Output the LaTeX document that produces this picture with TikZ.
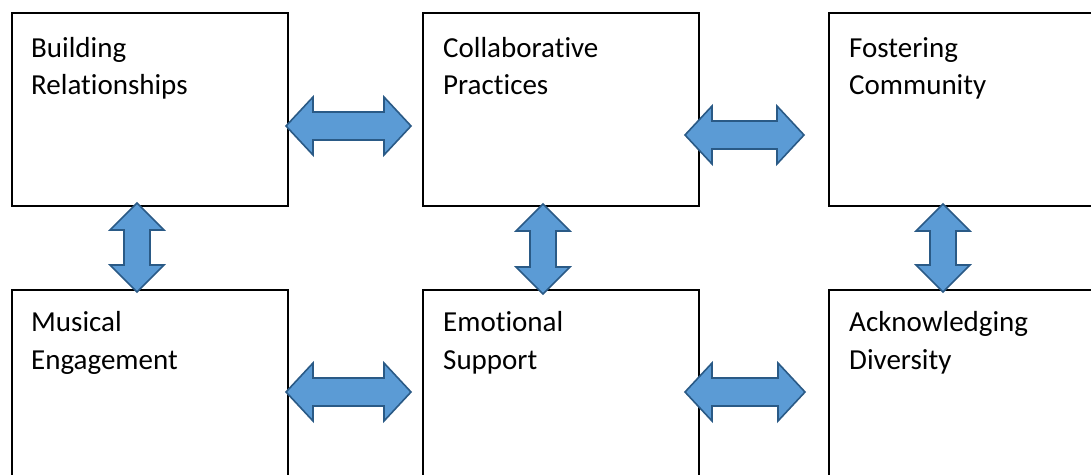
\documentclass[tikz,border=0pt]{standalone}
\usepackage{fontspec}
\setmainfont{Carlito}[Ligatures={NoCommon}]
\usetikzlibrary{calc}
\definecolor{arrowfill}{HTML}{5B9BD5}
\definecolor{arrowline}{HTML}{2A5A86}
\tikzset{
  box/.style={draw=black, line width=1.8pt, minimum width=276pt, minimum height=193pt,
    inner sep=0pt, outer sep=0pt, anchor=north west},
  lbl/.style={anchor=base west, inner sep=0pt, align=left,
    font=\fontsize{29}{37.5}\selectfont},
  blockarrow/.style={fill=arrowfill, draw=arrowline, line width=1.6pt, line join=miter},
}
\newcommand\hdbl[2]{%
  \draw[blockarrow] (#1) -- ($(#1)+(27,-29)$) -- ($(#1)+(27,-14)$) -- ($(#2)+(-27,-14)$)
    -- ($(#2)+(-27,-29)$) -- (#2) -- ($(#2)+(-27,29)$) -- ($(#2)+(-27,14)$)
    -- ($(#1)+(27,14)$) -- ($(#1)+(27,29)$) -- cycle;}
\newcommand\vdbl[2]{%
  \draw[blockarrow] (#1) -- ($(#1)+(27,27)$) -- ($(#1)+(13,27)$) -- ($(#2)+(13,-27)$)
    -- ($(#2)+(27,-27)$) -- (#2) -- ($(#2)+(-27,-27)$) -- ($(#2)+(-13,-27)$)
    -- ($(#1)+(-13,27)$) -- ($(#1)+(-27,27)$) -- cycle;}
\begin{document}
\begin{tikzpicture}[x=1pt, y=-1pt]
\useasboundingbox (0,0) rectangle (1091,474);
\clip (0,0) rectangle (1091,474);
% boxes
\node[box] (br) at (12,13) {};
\node[box] (cp) at (423,13) {};
\node[box] (fc) at (829,13) {};
\node[box] (me) at (12,290) {};
\node[box] (es) at (423,290) {};
\node[box] (ad) at (829,290) {};
% labels (anchor = baseline of the last line)
\node[lbl] (tbr) at (31,94.5) {Building\\Relationships};
\node[lbl] (tcp) at (443,94.5) {Collaborative\\Practices};
\node[lbl] (tfc) at (849,94.5) {Fostering\\Community};
\node[lbl] (tme) at (31,369) {Musical\\Engagement};
\node[lbl] (tes) at (443,369) {Emotional\\Support};
\node[lbl] (tad) at (849,369) {Acknowledging\\Diversity};
% arrow end points
\coordinate (h1a) at (286,126); \coordinate (h1b) at (411,126);
\coordinate (h2a) at (685,135); \coordinate (h2b) at (804,135);
\coordinate (h3a) at (286,392); \coordinate (h3b) at (411,392);
\coordinate (h4a) at (685,392); \coordinate (h4b) at (805,392);
\coordinate (v1a) at (137,203); \coordinate (v1b) at (137,292);
\coordinate (v2a) at (543,204); \coordinate (v2b) at (543,294);
\coordinate (v3a) at (943,204); \coordinate (v3b) at (943,292);
\hdbl{h1a}{h1b}
\hdbl{h2a}{h2b}
\hdbl{h3a}{h3b}
\hdbl{h4a}{h4b}
\vdbl{v1a}{v1b}
\vdbl{v2a}{v2b}
\vdbl{v3a}{v3b}
\end{tikzpicture}
\end{document}
